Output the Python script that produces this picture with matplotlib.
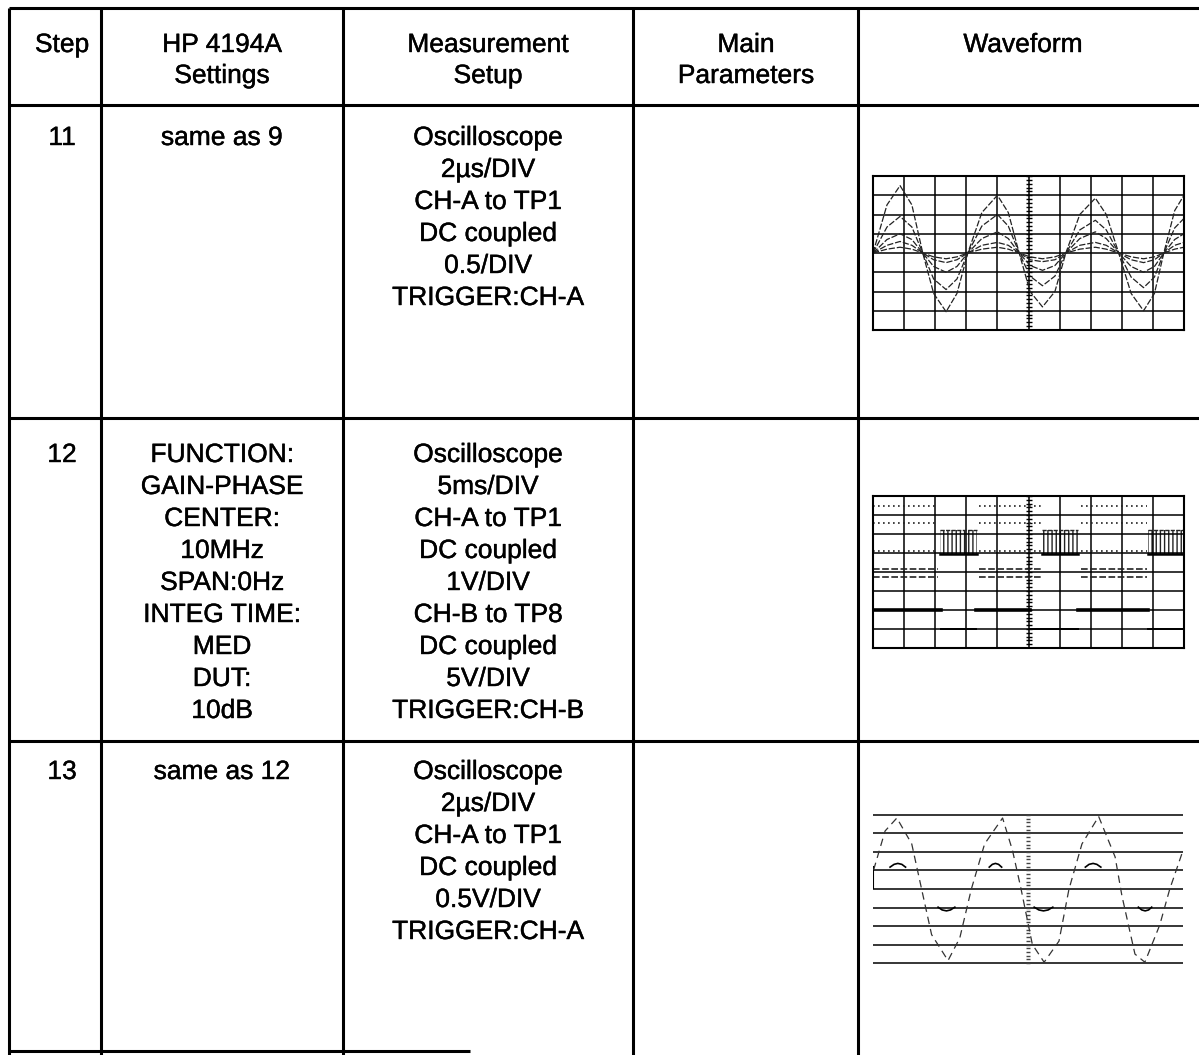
import numpy as np
import matplotlib
matplotlib.use("Agg")
import matplotlib.pyplot as plt
import matplotlib.patheffects as pe

plt.rcParams['font.family'] = ['Liberation Sans', 'DejaVu Sans']

# ===== table text =====
headers = ["Step", "HP 4194A\nSettings", "Measurement\nSetup", "Main\nParameters", "Waveform"]
steps = ["11", "12", "13"]
settings = [
    ["same as 9"],
    ["FUNCTION:", "GAIN-PHASE", "CENTER:", "10MHz", "SPAN:0Hz", "INTEG TIME:", "MED", "DUT:", "10dB"],
    ["same as 12"],
]
setups = [
    ["Oscilloscope", "2\u00b5s/DIV", "CH-A to TP1", "DC coupled", "0.5/DIV", "TRIGGER:CH-A"],
    ["Oscilloscope", "5ms/DIV", "CH-A to TP1", "DC coupled", "1V/DIV", "CH-B to TP8", "DC coupled", "5V/DIV", "TRIGGER:CH-B"],
    ["Oscilloscope", "2\u00b5s/DIV", "CH-A to TP1", "DC coupled", "0.5V/DIV", "TRIGGER:CH-A"],
]

# ===== waveform 1 (step 11): family of sine traces, in divisions =====
wf1_x = [0.0, 0.45, 0.87, 1.25, 1.6, 1.95, 2.35, 2.7, 3.05, 3.5, 4.0, 4.35, 4.7, 5.05,
         5.45, 5.85, 6.2, 6.65, 7.15, 7.5, 7.9, 8.3, 8.7, 9.05, 9.35, 9.7, 10.0]
wf1_t1 = [4.0, 6.5, 7.5, 6.5, 4.0, 1.9, 0.95, 1.9, 4.0, 6.1, 7.0, 6.1, 4.0, 2.0,
          1.2, 2.0, 4.0, 6.0, 6.85, 6.0, 4.0, 1.9, 1.0, 1.9, 4.0, 6.2, 7.0]
wf1_t2 = [4.0, 5.35, 5.9, 5.35, 4.0, 2.65, 2.1, 2.65, 4.0, 5.4, 6.0, 5.4, 4.0, 2.8,
          2.3, 2.8, 4.0, 5.2, 5.7, 5.2, 4.0, 2.75, 2.2, 2.75, 4.0, 5.3, 5.8]
wf1_t3 = [4.0, 4.7, 5.0, 4.7, 4.0, 3.3, 3.0, 3.3, 4.0, 4.75, 5.1, 4.75, 4.0, 3.35,
          3.1, 3.35, 4.0, 4.75, 5.1, 4.75, 4.0, 3.3, 3.0, 3.3, 4.0, 4.7, 5.0]
wf1_t4 = [4.0, 4.4, 4.6, 4.4, 4.0, 3.65, 3.5, 3.65, 4.0, 4.4, 4.55, 4.4, 4.0, 3.65,
          3.55, 3.65, 4.0, 4.4, 4.55, 4.4, 4.0, 3.65, 3.5, 3.65, 4.0, 4.4, 4.55]
wf1_t5 = [4.0, 4.2, 4.3, 4.2, 4.0, 3.8, 3.7, 3.8, 4.0, 4.2, 4.3, 4.2, 4.0, 3.8,
          3.7, 3.8, 4.0, 4.2, 4.3, 4.2, 4.0, 3.8, 3.7, 3.8, 4.0, 4.2, 4.3]

# ===== waveform 2 (step 12): gated burst + square wave =====
chb_start = [0.0, 2.2, 3.3, 5.05, 6.6, 8.85]
chb_end = [2.2, 3.3, 5.05, 6.6, 8.85, 10.0]
chb_level = [2.0, 1.0, 2.0, 1.0, 2.0, 1.0]
cha_start = [0.0, 3.4, 6.7]
cha_end = [2.1, 5.4, 8.8]
cha_levels = [7.45, 6.6, 5.1, 4.15, 3.75]
burst_start = [2.15, 5.45, 8.85]
burst_end = [3.35, 6.6, 10.0]
burst_low = 4.95
burst_high = 6.2

# ===== waveform 3 (step 13) =====
wf3_x = [0.02, 0.39, 0.77, 1.25, 1.57, 1.89, 2.42, 2.8, 3.17, 3.6, 4.18, 4.5, 4.77,
         5.14, 5.52, 6.0, 6.32, 6.74, 7.28, 7.81, 8.03, 8.45, 8.77, 9.25, 9.57, 10.0]
wf3_y = [5.03, 7.13, 7.83, 6.43, 3.98, 1.54, 0.14, 1.36, 3.98, 6.43, 7.83, 6.08, 4.05,
         1.01, 0.05, 1.19, 3.98, 6.43, 7.91, 5.73, 3.63, 0.49, 0.05, 2.06, 3.98, 6.08]
arc_top_x = [[0.55, 0.68, 0.8, 0.93, 1.05], [3.75, 3.85, 3.95, 4.05, 4.15], [6.85, 6.97, 7.1, 7.22, 7.35]]
arc_top_y = [5.18, 5.33, 5.38, 5.33, 5.18]
arc_bot_x = [[2.1, 2.23, 2.37, 2.5, 2.64], [5.2, 5.35, 5.5, 5.65, 5.8], [8.56, 8.67, 8.78, 8.89, 8.99]]
arc_bot_y = [3.02, 2.87, 2.82, 2.87, 3.02]

W, H = 1199, 1055
fig = plt.figure(figsize=(W / 100, H / 100), dpi=100)
ax = fig.add_axes([0, 0, 1, 1])
ax.set_xlim(0, W)
ax.set_ylim(H, 0)
ax.axis('off')

# --- grid of the table ---
col_x = [9, 101, 343, 633, 858]
row_y = [8, 105, 418, 741]
lw = 2.2
for x in col_x:
    ax.plot([x, x], [row_y[0], H], color='black', lw=lw, solid_capstyle='butt')
for y in row_y:
    ax.plot([col_x[0], W], [y, y], color='black', lw=lw, solid_capstyle='butt')
ax.plot([col_x[0], 470], [1051, 1051], color='black', lw=lw, solid_capstyle='butt')

centers = [62, 222, 488, 746, 1023]
fs = 19
bold = [pe.withStroke(linewidth=0.3, foreground='black')]
for cx, h in zip(centers, headers):
    for i, line in enumerate(h.split("\n")):
        ax.text(cx, 45 + i * 31, line, ha='center', va='center', fontsize=fs, path_effects=bold)

row_top = [138, 455, 772]
step_gap = 32
for r in range(3):
    ax.text(centers[0], row_top[r], steps[r], ha='center', va='center', fontsize=fs, path_effects=bold)
    for i, line in enumerate(settings[r]):
        ax.text(centers[1], row_top[r] + i * step_gap, line, ha='center', va='center',
                fontsize=fs, path_effects=bold)
    for i, line in enumerate(setups[r]):
        ax.text(centers[2], row_top[r] + i * step_gap, line, ha='center', va='center',
                fontsize=fs, path_effects=bold)


def scope_axes(x0, y0, x1, y1):
    a = fig.add_axes([x0 / W, 1 - y1 / H, (x1 - x0) / W, (y1 - y0) / H])
    a.set_xlim(0, 10)
    a.set_ylim(0, 8)
    a.set_xticks([])
    a.set_yticks([])
    return a


trace = dict(color='#222222', lw=0.9, ls=(0, (5, 1.5)))

# --- waveform 1 ---
a1 = scope_axes(873, 176, 1184, 330)
for k in range(1, 10):
    a1.axvline(k, color='black', lw=1.1)
for k in range(1, 8):
    a1.axhline(k, color='black', lw=1.1)
for s in a1.spines.values():
    s.set_linewidth(1.5)
a1.plot([5] * 41, np.linspace(0, 8, 41), marker='_', ms=4, color='black', lw=0)
for ys in [wf1_t1, wf1_t2, wf1_t3, wf1_t4, wf1_t5]:
    a1.plot(wf1_x, ys, **trace)

# --- waveform 2 ---
a2 = scope_axes(873, 496, 1184, 648)
for k in range(1, 10):
    a2.axvline(k, color='black', lw=1.1)
for k in range(1, 8):
    a2.axhline(k, color='black', lw=1.1)
for s in a2.spines.values():
    s.set_linewidth(1.5)
a2.plot([5] * 41, np.linspace(0, 8, 41), marker='_', ms=4, color='black', lw=0)
for s0, s1, lv in zip(chb_start, chb_end, chb_level):
    a2.plot([s0, s1], [lv, lv], color='black', lw=2.6 if lv > 1.5 else 1.4)
for s0, s1 in zip(cha_start, cha_end):
    for j, lv in enumerate(cha_levels):
        ls = (0, (1, 2)) if j < 3 else (0, (4, 1.5))
        a2.plot([s0, s1], [lv, lv], color='#222222', lw=1.2, ls=ls)
for s0, s1 in zip(burst_start, burst_end):
    a2.fill_between([s0, s1], burst_low, burst_high, facecolor='none',
                    edgecolor='#222222', hatch='||||', lw=0)
    a2.plot([s0, s1], [burst_low, burst_low], color='black', lw=1.8)
    a2.plot([s0, s1], [burst_high, burst_high], color='#222222', lw=1.0, ls=(0, (3, 1)))

# --- waveform 3 ---
a3 = scope_axes(873, 813, 1183, 965)
for s in a3.spines.values():
    s.set_visible(False)
a3.set_ylim(-0.1, 8.1)
for k in range(0, 9):
    a3.axhline(k, color='black', lw=1.1)
a3.plot([0, 0], [4.07, 5.2], color='black', lw=1.5)
a3.plot([5] * 41, np.linspace(0, 8, 41), marker='_', ms=3, color='#444444', lw=0)
a3.plot(wf3_x, wf3_y, color='#333333', lw=0.9, ls=(0, (6, 4)))
for xs in arc_top_x:
    a3.plot(xs, arc_top_y, color='black', lw=1.2)
for xs in arc_bot_x:
    a3.plot(xs, arc_bot_y, color='black', lw=1.2)

plt.savefig("out.png", dpi=100)
